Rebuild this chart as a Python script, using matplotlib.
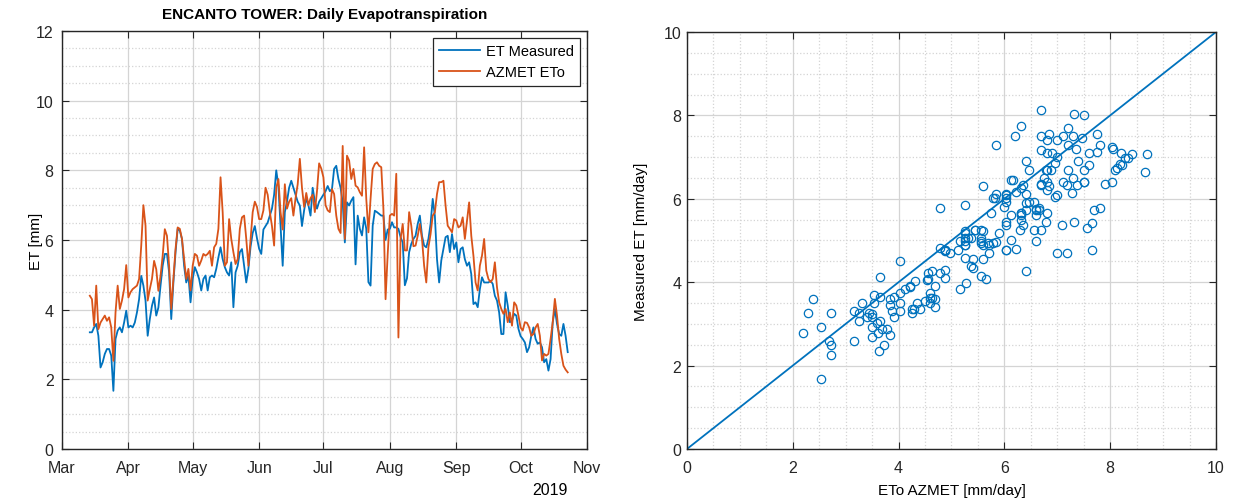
import numpy as np
import pandas as pd
import matplotlib
matplotlib.use('Agg')
import matplotlib.pyplot as plt
from matplotlib.ticker import MultipleLocator

plt.rcParams['font.family'] = ['Liberation Sans', 'DejaVu Sans']

# Gunluk seriler (14 Mart - 23 Ekim 2019)
start_date = '2019-03-14'

azmet_eto = [
    4.40, 4.30, 3.54, 4.69, 3.44, 3.63, 3.73, 3.83, 3.68, 3.78,
    3.49, 2.53, 3.92, 4.69, 4.02, 4.26, 4.59, 5.28, 4.35, 4.50,
    4.59, 4.64, 4.69, 4.88, 5.84, 7.00, 6.41, 4.26, 4.59, 4.88,
    5.40, 5.16, 4.54, 4.97, 5.55, 6.31, 6.12,
    5.26, 4.02, 4.88, 5.74, 6.36, 6.32, 6.03, 5.45, 4.88, 5.17,
    4.55, 5.26, 5.60, 5.55, 5.26, 5.41, 5.60, 5.55, 5.60, 5.69,
    5.26, 5.79, 5.89, 6.32, 7.80, 6.79, 5.26, 5.36, 6.60, 6.03,
    5.65, 5.31, 5.45, 6.32, 6.65, 6.70, 6.03, 5.26,
    6.00, 6.80, 7.10, 6.95, 6.60, 6.60, 6.85, 7.50, 7.30, 6.80,
    6.40, 5.84, 7.50, 7.75, 6.80, 6.30, 7.60, 6.90, 7.10, 7.20,
    6.70, 7.20, 7.60, 8.33, 7.50, 6.95, 7.35, 7.00, 7.20, 7.30,
    6.80, 7.40, 8.20, 8.05, 7.80, 7.00, 6.85,
    6.80, 7.46, 7.32, 6.70, 6.32, 6.20, 8.70, 6.03, 8.42, 8.28,
    7.75, 8.04, 7.56, 7.51, 7.37, 7.27, 8.66, 7.18, 6.22, 7.18,
    8.04, 8.18, 8.23, 8.13, 8.09, 6.89, 4.30, 5.60, 6.70, 6.75,
    6.70, 7.90, 3.20, 6.03, 6.46,
    5.70, 5.70, 6.80, 6.41, 5.82, 5.84, 6.12, 6.46, 6.03, 5.26,
    4.78, 5.79, 6.17, 6.70, 6.79, 7.32, 7.66, 7.66, 7.70, 6.99,
    6.41, 6.32, 6.22, 6.60, 6.56, 6.36, 6.41, 6.65, 6.03, 6.56,
    7.08, 6.12, 5.55, 4.78, 4.55, 5.26, 5.55, 6.03, 5.12, 4.88,
    4.79, 4.88, 5.36, 4.64, 4.21, 4.02, 3.88, 4.02, 3.64, 3.92,
    3.54, 4.21, 4.12, 3.83, 3.49, 3.40, 3.64, 3.62, 3.49, 3.25,
    3.30, 3.49, 3.59, 3.25, 2.54, 2.73, 2.68, 2.73, 3.16, 3.64,
    4.31, 3.83, 3.16, 2.73, 2.39, 2.28, 2.20,
]

et_measured = [
    3.35, 3.35, 3.49, 3.59, 3.25, 2.34, 2.49, 2.73, 2.87, 2.87,
    2.68, 1.67, 3.16, 3.40, 3.49, 3.35, 3.63, 3.97, 3.49, 3.54,
    3.49, 3.63, 3.92, 4.30, 4.97, 4.69, 4.26, 3.25, 3.73, 4.11,
    4.35, 3.83, 4.06, 4.69, 5.26, 5.60, 5.60,
    5.07, 3.73, 4.78, 5.65, 6.32, 6.27, 6.03, 5.26, 4.78, 4.98,
    4.21, 4.88, 5.22, 5.07, 4.88, 4.55, 4.88, 4.98, 4.55, 4.93,
    4.98, 4.93, 5.17, 5.50, 5.79, 5.45, 5.22, 5.07, 4.98, 5.36,
    4.07, 5.07, 5.26, 5.65, 5.74, 5.26, 4.78, 5.17,
    5.80, 6.20, 6.40, 6.05, 5.75, 5.60, 6.30, 6.40, 6.50, 6.70,
    6.90, 7.30, 8.00, 7.55, 6.40, 5.26, 6.80, 7.10, 7.50, 7.70,
    7.50, 7.30, 7.10, 6.99, 6.40, 6.85, 7.20, 7.00, 6.70, 7.50,
    7.10, 6.90, 7.10, 7.20, 7.30, 7.40, 7.55,
    7.40, 7.46, 8.04, 8.13, 7.75, 7.50, 7.08, 5.93, 7.08, 6.99,
    7.13, 7.23, 5.30, 6.70, 6.32, 6.13, 6.65, 6.32, 4.79, 4.69,
    6.41, 6.84, 6.80, 6.75, 6.70, 6.70, 6.00, 6.30, 6.32, 6.51,
    6.36, 6.36, 6.32, 6.08, 5.93,
    4.70, 4.90, 5.65, 5.89, 6.03, 6.12, 6.46, 6.70, 6.12, 5.84,
    5.79, 6.03, 6.46, 7.18, 6.70, 5.45, 4.78, 5.41, 5.74, 6.08,
    6.12, 5.65, 6.17, 5.74, 5.93, 5.36, 5.74, 5.79, 5.45, 5.26,
    5.36, 5.02, 4.16, 4.21, 4.07, 4.59, 4.93, 4.78, 4.78, 4.78,
    4.83, 4.74, 4.40, 4.26, 3.92, 3.30, 3.30, 4.50, 4.12, 3.64,
    3.69, 3.88, 3.83, 3.45, 3.24, 3.16, 3.06, 2.78, 2.92, 3.25,
    3.49, 3.16, 3.02, 3.06, 2.92, 2.49, 2.58, 2.25, 2.58, 3.64,
    4.02, 3.59, 3.30, 3.25, 3.59, 3.25, 2.78,
]

# dagilim grafiginde gorunmeyen gunler (indeks)
scatter_skip = [138, 144]

month_labels = ['Mar', 'Apr', 'May', 'Jun', 'Jul', 'Aug', 'Sep', 'Oct', 'Nov']

blue = '#0072BD'
orange = '#D95319'
grid_col = '#d4d4d4'
edge_col = '#262626'

dates = pd.date_range(start=start_date, periods=len(azmet_eto), freq='D')
month_ticks = pd.date_range('2019-03-01', '2019-11-01', freq='MS')

fig = plt.figure(figsize=(12.34, 5.02), dpi=100)
ax1 = fig.add_axes([0.0502, 0.1036, 0.4255, 0.8327])
ax2 = fig.add_axes([0.5567, 0.1036, 0.4287, 0.8307])


def style_axes(ax, ypad):
    for sp in ax.spines.values():
        sp.set_color(edge_col)
        sp.set_linewidth(1.0)
    ax.tick_params(which='major', direction='in', length=5, width=0.8,
                   top=True, right=True, labelsize=11.5, colors=edge_col)
    ax.tick_params(axis='x', which='major', pad=8)
    ax.tick_params(axis='y', which='major', pad=ypad)
    ax.tick_params(which='minor', length=0, top=True, right=True)
    ax.grid(True, which='major', color=grid_col, linewidth=0.9)
    ax.grid(True, which='minor', color=grid_col, linestyle=':', linewidth=0.9)
    ax.set_axisbelow(True)


# --- Sol grafik: zaman serisi ---
ax1.plot(dates, et_measured, color=blue, lw=1.3, label='ET Measured')
ax1.plot(dates, azmet_eto, color=orange, lw=1.3, label='AZMET ETo')
ax1.set_xlim(month_ticks[0], month_ticks[-1])
ax1.set_ylim(0, 12)
ax1.set_xticks(month_ticks)
ax1.set_xticklabels(month_labels)
ax1.yaxis.set_major_locator(MultipleLocator(2))
ax1.yaxis.set_minor_locator(MultipleLocator(0.5))
style_axes(ax1, 6)
ax1.xaxis.grid(False, which='minor')
ax1.set_ylabel('ET [mm]', fontsize=11)
ax1.yaxis.set_label_coords(-0.036, 0.5)
ax1.set_title('ENCANTO TOWER: Daily Evapotranspiration', fontsize=11, fontweight='bold', pad=9)
ax1.text(0.93, -0.096, '2019', transform=ax1.transAxes, ha='center', va='center', fontsize=11.5)
leg = ax1.legend(loc='upper right', fontsize=10.5, fancybox=False, framealpha=1,
                 edgecolor=edge_col, handlelength=2.8, borderaxespad=0.45,
                 borderpad=0.45, labelspacing=0.5, handletextpad=0.4)
leg.get_frame().set_linewidth(0.9)

# --- Sag grafik: dagilim ---
sc_x = [v for i, v in enumerate(azmet_eto) if i not in scatter_skip]
sc_y = [v for i, v in enumerate(et_measured) if i not in scatter_skip]
ax2.plot([0, 10], [0, 10], color=blue, lw=1.3)
ax2.plot(sc_x, sc_y, 'o', mfc='none', mec=blue, ms=6, mew=0.9)
ax2.set_xlim(0, 10)
ax2.set_ylim(0, 10)
ax2.xaxis.set_major_locator(MultipleLocator(2))
ax2.yaxis.set_major_locator(MultipleLocator(2))
ax2.xaxis.set_minor_locator(MultipleLocator(0.5))
ax2.yaxis.set_minor_locator(MultipleLocator(0.5))
style_axes(ax2, 4)
ax2.set_xlabel('ETo AZMET [mm/day]', fontsize=11, labelpad=6)
ax2.set_ylabel('Measured ET [mm/day]', fontsize=11)
ax2.yaxis.set_label_coords(-0.074, 0.5)

plt.savefig('out.png', dpi=100)
